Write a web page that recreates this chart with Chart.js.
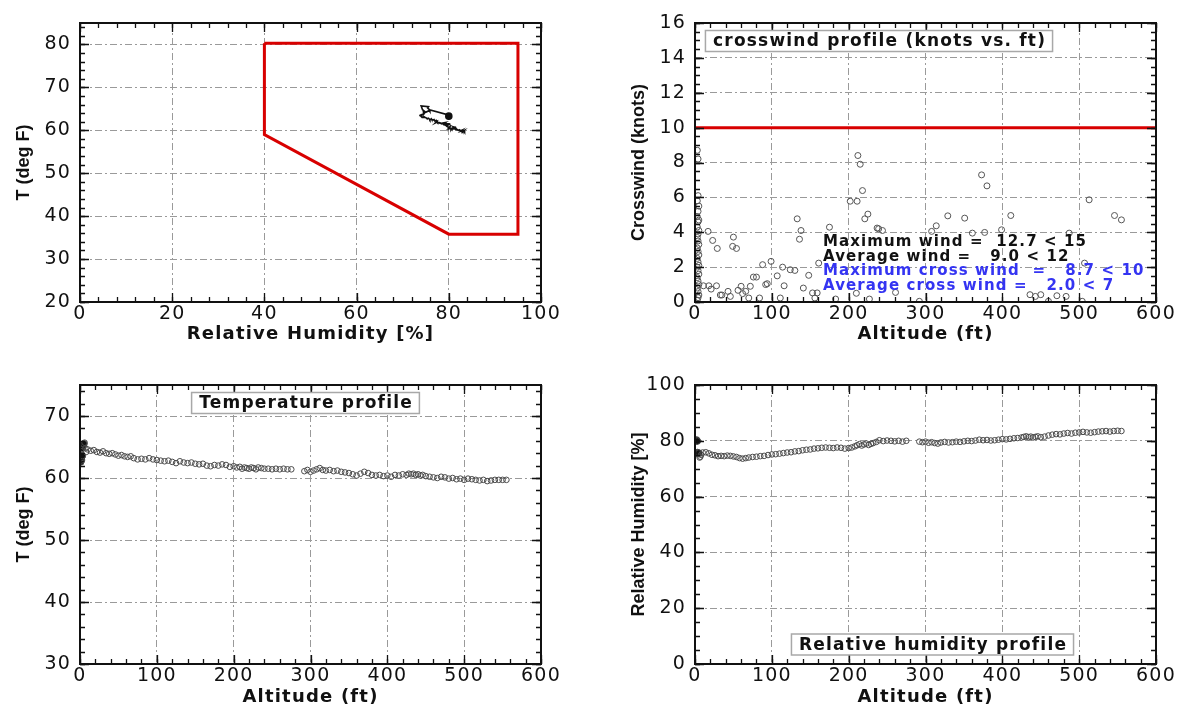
<!DOCTYPE html>
<html>
<head>
<meta charset="utf-8">
<title>Balloon profile</title>
<script src="https://cdn.jsdelivr.net/npm/chart.js@4.4.0/dist/chart.umd.min.js"></script>
<style>
  body { margin: 0; background: #fff; width: 1182px; height: 719px; position: relative; overflow: hidden; }
  canvas { position: absolute; }
</style>
</head>
<body>
<canvas id="envelopeChart" width="600" height="360" style="left:0;top:0"></canvas>
<canvas id="windChart" width="582" height="360" style="left:600px;top:0"></canvas>
<canvas id="tempChart" width="600" height="359" style="left:0;top:360px"></canvas>
<canvas id="rhChart" width="582" height="359" style="left:600px;top:360px"></canvas>
<script>
// acceptance envelope in the RH / T plane
const envelopeRH = [40, 95, 95, 80, 40, 40];
const envelopeT = [80.3, 80.3, 35.8, 35.8, 59, 80.3];

// sounding: altitude (ft), temperature (deg F), relative humidity (%)
const altitude = [
  1, 2, 2, 3, 3, 4, 5, 6, 7, 8,
  10, 14, 18, 22, 26, 30, 34, 38, 42, 46, 50, 54, 58, 62, 66, 70,
  75, 80, 85, 90, 95, 100, 105, 110, 115, 120, 125, 130, 135, 140, 145, 150, 155, 160, 165, 170, 175, 180, 185, 190, 195, 200,
  204, 208, 211, 214, 217, 220, 223, 226, 229, 232, 236, 240,
  245, 250, 255, 260, 265, 270, 275,
  292, 296, 300, 304, 308, 312, 316, 320,
  325, 330, 335, 340, 345, 350, 355, 360, 365, 370, 375, 380, 385, 390, 395, 400, 405, 410, 415, 420, 425,
  428, 431, 434, 437, 440, 443, 446,
  450, 455, 460, 465, 470, 475, 480, 485, 490, 495, 500, 505, 510, 515, 520, 525, 530, 535, 540, 545, 550, 555,
];
const temperature = [
  62.6, 62.9, 63.3, 63.6, 64.8, 65.2, 65.5, 65.7, 64.8, 64.2,
  64.6, 64.4, 64.5, 64.2, 64.1, 64.3, 64.0, 63.9, 64.0, 63.8, 63.6, 63.7, 63.5, 63.4, 63.5, 63.2,
  63.0, 63.1, 63.0, 63.2, 63.0, 62.9, 62.8, 62.7, 62.8, 62.6, 62.4, 62.7, 62.5, 62.4, 62.5, 62.3, 62.2, 62.3, 62.0, 61.9, 62.1, 62.0, 62.2, 62.1, 61.8, 61.9,
  61.7, 61.8, 61.5, 61.7, 61.6, 61.5, 61.7, 61.6, 61.4, 61.7, 61.6, 61.5,
  61.5, 61.4, 61.5, 61.4, 61.5, 61.4, 61.4,
  61.1, 61.3, 61.0, 61.2, 61.4, 61.6, 61.3, 61.2,
  61.3, 61.1, 61.2, 61.0, 60.9, 60.8, 60.6, 60.4, 60.7, 61.0, 60.8, 60.5, 60.4, 60.5, 60.3, 60.4, 60.2, 60.5, 60.4, 60.6, 60.5,
  60.7, 60.6, 60.7, 60.5, 60.6, 60.4, 60.5,
  60.3, 60.2, 60.1, 60.0, 60.2, 60.1, 59.9, 60.0, 59.8, 59.9, 59.7, 59.9, 59.8, 59.7, 59.6, 59.7, 59.5, 59.6, 59.7, 59.7, 59.7, 59.7,
];
const humidity = [
  80.1, 80.3, 80.0, 79.9, 75.8, 75.4, 75.6, 74.0, 74.3, 75.0,
  75.8, 75.9, 75.5, 75.0, 74.8, 74.5, 74.6, 74.5, 74.7, 74.6, 74.4, 74.2, 73.8, 73.6, 73.8, 74.0,
  74.2, 74.3, 74.5, 74.6, 74.9, 75.1, 75.2, 75.4, 75.6, 75.8, 75.9, 76.2, 76.3, 76.6, 76.8, 76.9, 77.2, 77.3, 77.5, 77.6, 77.5, 77.4, 77.6, 77.5, 77.2, 77.4,
  77.6, 78.0, 78.4, 78.8, 78.3, 78.7, 79.0, 78.5, 78.9, 79.2, 79.6, 80.2,
  79.9, 80.1, 80.0, 79.8, 80.0, 79.7, 80.0,
  79.7, 79.5, 79.7, 79.3, 79.5, 79.2, 79.0, 79.4,
  79.6, 79.4, 79.5, 79.7, 79.6, 79.8, 80.0, 79.9, 80.1, 80.4, 80.2, 80.3, 80.1, 80.2, 80.4, 80.6, 80.5, 80.7, 80.9, 81.0, 81.2,
  81.4, 81.6, 81.3, 81.5, 81.2, 81.4, 81.6,
  81.3, 81.5, 81.9, 82.2, 82.4, 82.3, 82.6, 82.8, 82.6, 82.9, 83.0, 83.2, 83.0, 82.9, 83.1, 83.3, 83.4, 83.5, 83.3, 83.5, 83.6, 83.5,
];

// crosswind samples: altitude (ft) and crosswind (knots)
const windAltitude = [
  3, 4, 4, 3, 5, 4, 3, 5, 4, 3, 5, 4, 3, 4, 5, 3, 4, 5, 3, 4, 5, 3, 4, 5, 3, 4, 5, 3, 4, 5, 4, 3,
  11, 17, 18, 21, 23, 28, 29, 33, 35, 43, 46, 49, 50, 54, 56, 60, 62, 66, 70, 72, 76, 80, 84, 88,
  92, 94, 99, 107, 111, 114, 116, 124, 130, 133, 136, 138, 141, 148, 153, 156, 159, 161, 175, 183,
  202, 210, 211, 212, 215, 218, 221, 225, 227, 237, 239, 244, 261, 292, 308, 314, 329, 351, 361, 373,
  377, 380, 399, 411, 436, 443, 450, 460, 471, 483, 487, 504, 507, 513, 546, 555,
];
const crosswind = [
  8.7, 8.2, 6.1, 5.8, 5.5, 5.2, 4.9, 4.7, 4.6, 4.3, 4.1, 3.9, 3.7, 3.5, 3.3, 3.1, 2.9, 2.7, 2.5, 2.3, 2.1, 2.0, 1.8, 1.6, 1.4, 1.2, 1.0, 0.8, 0.6, 0.4, 0.25, 0.1,
  0.93, 4.05, 0.93, 0.74, 3.53, 0.93, 3.07, 0.4, 0.4, 0.61, 0.32, 3.19, 3.72, 3.07, 0.67, 0.9, 0.48, 0.61, 0.23, 0.9, 1.43, 1.43, 0.23, 2.14,
  1.0, 1.05, 2.33, 1.5, 0.23, 2.0, 0.93, 1.85, 1.81, 4.77, 3.6, 4.1, 0.8, 1.53, 0.52, 0.23, 0.52, 2.23, 4.29, 0.17,
  5.78, 0.5, 5.78, 8.4, 7.9, 6.39, 4.77, 5.04, 0.17, 4.24, 4.2, 4.1, 0.55, 0.04, 4.05, 4.37, 4.94, 4.81, 3.95, 7.29,
  3.99, 6.66, 4.14, 4.96, 0.42, 0.32, 0.42, 0.04, 0.36, 0.32, 3.95, 0.04, 2.23, 5.86, 4.96, 4.71,
];
const crosswindLimit = 10;

const windStatLabels = ['Maximum wind =  ', 'Average wind =   ', 'Maximum cross wind  =   ', 'Average cross wind =   '];
const windStatValues = [12.7, 9.0, 8.7, 2.0];
const windStatLimits = [15, 12, 10, 7];
const windStatColors = ['#111', '#111', '#3434f2', '#3434f2'];

const INK = '#111';
const tickFont = { family: 'DejaVu Sans', size: 19 };
const titleFont = { family: 'DejaVu Sans', size: 18, weight: 'bold' };

// frame, inward major/minor ticks, rotated y title, boxed labels
const framePlugin = {
  id: 'frame',
  beforeDraw(chart) {
    chart.ctx.letterSpacing = '1.2px';
  },
  afterDraw(chart, args, opts) {
    const { ctx, chartArea: a, scales } = chart;
    ctx.save();
    ctx.strokeStyle = INK;
    ctx.lineWidth = 1.3;
    const mark = (scale, values, len) => {
      values.forEach((v) => {
        const p = Math.round(scale.getPixelForValue(v)) + 0.5;
        ctx.beginPath();
        if (scale.isHorizontal()) {
          ctx.moveTo(p, a.bottom); ctx.lineTo(p, a.bottom - len);
          ctx.moveTo(p, a.top); ctx.lineTo(p, a.top + len);
        } else {
          ctx.moveTo(a.left, p); ctx.lineTo(a.left + len, p);
          ctx.moveTo(a.right, p); ctx.lineTo(a.right - len, p);
        }
        ctx.stroke();
      });
    };
    [['x', opts.minor[0]], ['y', opts.minor[1]]].forEach(([id, step]) => {
      const s = scales[id];
      const minors = [];
      for (let i = 0; s.min + i * step <= s.max + 1e-9; i++) minors.push(s.min + i * step);
      mark(s, minors, 5);
      mark(s, s.ticks.map((t) => t.value), 9);
    });

    ctx.lineWidth = 2;
    ctx.strokeRect(a.left, a.top, a.right - a.left, a.bottom - a.top);

    // y axis title (narrow font, no stretch)
    ctx.letterSpacing = '0px';
    ctx.fillStyle = INK;
    ctx.font = 'bold 18px "Liberation Sans", Arial, sans-serif';
    ctx.textAlign = 'center';
    ctx.textBaseline = 'middle';
    ctx.save();
    ctx.translate(opts.yTitleX, (a.top + a.bottom) / 2);
    ctx.rotate(-Math.PI / 2);
    ctx.fillText(opts.yTitle, 0, 0);
    ctx.restore();

    (opts.boxes || []).forEach((b) => {
      ctx.font = 'bold 17px "DejaVu Sans", sans-serif';
      ctx.letterSpacing = '1.2px';
      const w = ctx.measureText(b.text).width;
      const cx = a.left + b.cx;
      const cy = a.top + b.cy;
      ctx.fillStyle = '#fff';
      ctx.fillRect(cx - w / 2 - 7, cy - 10.5, w + 14, 21);
      ctx.strokeStyle = '#a8a8a8';
      ctx.lineWidth = 1.5;
      ctx.strokeRect(cx - w / 2 - 7, cy - 10.5, w + 14, 21);
      ctx.fillStyle = INK;
      ctx.textAlign = 'center';
      ctx.fillText(b.text, cx + 0.6, cy + 1);
    });

    if (opts.stats) {
      ctx.font = 'bold 15px "DejaVu Sans", sans-serif';
      ctx.letterSpacing = '1.1px';
      ctx.textAlign = 'left';
      windStatLabels.forEach((label, i) => {
        ctx.fillStyle = windStatColors[i];
        const text = `${label}${windStatValues[i].toFixed(1)} < ${windStatLimits[i]}`;
        ctx.fillText(text, a.left + opts.stats.dx, a.top + opts.stats.dy + i * 14.7);
      });
    }
    ctx.restore();
  },
};

const axis = (min, max, step, extra) => ({
  type: 'linear',
  min,
  max,
  grid: { color: '#9a9a9a', lineWidth: 1, drawTicks: false },
  border: { display: false, dash: [7, 3, 2, 3] },
  ...extra,
});

const makeChart = (canvasId, datasets, cfg) => {
  const ctx = document.getElementById(canvasId);
  return new Chart(ctx, {
    type: 'scatter',
    data: { datasets },
    plugins: [framePlugin],
    options: {
      responsive: false,
      animation: false,
      events: [],
      layout: { padding: cfg.padding },
      plugins: {
        legend: { display: false },
        tooltip: { enabled: false },
        frame: cfg.frame,
      },
      scales: {
        x: axis(cfg.x[0], cfg.x[1], cfg.x[2], {
          position: 'bottom',
          ticks: { stepSize: cfg.x[2], includeBounds: false, autoSkip: false, maxRotation: 0, color: INK, font: tickFont, padding: 1 },
          title: { display: true, text: cfg.xTitle, color: INK, font: titleFont, padding: { top: 0, bottom: cfg.xTitlePad } },
          afterFit: (s) => { s.height = cfg.xHeight; },
        }),
        y: axis(cfg.y[0], cfg.y[1], cfg.y[2], {
          position: 'left',
          ticks: { stepSize: cfg.y[2], includeBounds: false, autoSkip: false, color: INK, font: tickFont, padding: 9 },
          afterFit: (s) => { s.width = cfg.yWidth; },
        }),
      },
    },
  });
};

const isGround = (i) => altitude[i] <= 5;
const profilePoints = {
  showLine: false,
  pointRadius: (c) => (isGround(c.dataIndex) ? 3.3 : 2.8),
  pointBorderWidth: 1,
  pointBorderColor: '#4a4a4a',
  pointBackgroundColor: (c) => (isGround(c.dataIndex) ? '#111' : 'rgba(0,0,0,0)'),
};

// top left: T vs RH with envelope
makeChart('envelopeChart', [
  {
    data: envelopeRH.map((x, i) => ({ x, y: envelopeT[i] })),
    showLine: true,
    borderColor: '#d80000',
    borderWidth: 3,
    pointRadius: 0,
    order: 2,
  },
  {
    data: humidity.map((x, i) => ({ x, y: temperature[i] })),
    showLine: true,
    borderColor: '#111',
    borderWidth: 1.6,
    pointRadius: (c) => (c.dataIndex === 2 ? 3 : 0),
    pointBackgroundColor: '#111',
    pointBorderColor: '#111',
    order: 1,
  },
], {
  padding: { top: 23, right: 59, left: 0, bottom: 0 },
  x: [0, 100, 20], y: [20, 85, 10],
  xTitle: 'Relative Humidity [%]', xTitlePad: 15, xHeight: 58, yWidth: 80,
  frame: { minor: [4, 2], yTitle: 'T (deg F)', yTitleX: 24 },
});

// top right: crosswind profile
makeChart('windChart', [
  {
    data: [{ x: 0, y: crosswindLimit }, { x: 600, y: crosswindLimit }],
    showLine: true,
    borderColor: '#d80000',
    borderWidth: 3,
    pointRadius: 0,
    order: 2,
  },
  {
    data: windAltitude.map((x, i) => ({ x, y: crosswind[i] })),
    showLine: false,
    pointRadius: 3,
    pointBorderWidth: 1,
    pointBorderColor: '#555',
    pointBackgroundColor: 'rgba(0,0,0,0)',
    order: 1,
  },
], {
  padding: { top: 23, right: 26, left: 0, bottom: 0 },
  x: [0, 600, 100], y: [0, 16, 2],
  xTitle: 'Altitude (ft)', xTitlePad: 15, xHeight: 58, yWidth: 95,
  frame: {
    minor: [20, 0.5], yTitle: 'Crosswind (knots)', yTitleX: 39,
    boxes: [{ text: 'crosswind profile (knots vs. ft)', cx: 184, cy: 18 }],
    stats: { dx: 128, dy: 219 },
  },
});

// bottom left: temperature profile
makeChart('tempChart', [
  { data: altitude.map((x, i) => ({ x, y: temperature[i] })), ...profilePoints },
], {
  padding: { top: 25, right: 59, left: 0, bottom: 0 },
  x: [0, 600, 100], y: [30, 75, 10],
  xTitle: 'Altitude (ft)', xTitlePad: 11, xHeight: 55, yWidth: 80,
  frame: {
    minor: [20, 2], yTitle: 'T (deg F)', yTitleX: 24,
    boxes: [{ text: 'Temperature profile', cx: 225.5, cy: 18 }],
  },
});

// bottom right: humidity profile
makeChart('rhChart', [
  { data: altitude.map((x, i) => ({ x, y: humidity[i] })), ...profilePoints },
], {
  padding: { top: 25, right: 26, left: 0, bottom: 0 },
  x: [0, 600, 100], y: [0, 100, 20],
  xTitle: 'Altitude (ft)', xTitlePad: 11, xHeight: 55, yWidth: 95,
  frame: {
    minor: [20, 5], yTitle: 'Relative Humidity [%]', yTitleX: 39,
    boxes: [{ text: 'Relative humidity profile', cx: 237.5, cy: 259.5 }],
  },
});
</script>
</body>
</html>
